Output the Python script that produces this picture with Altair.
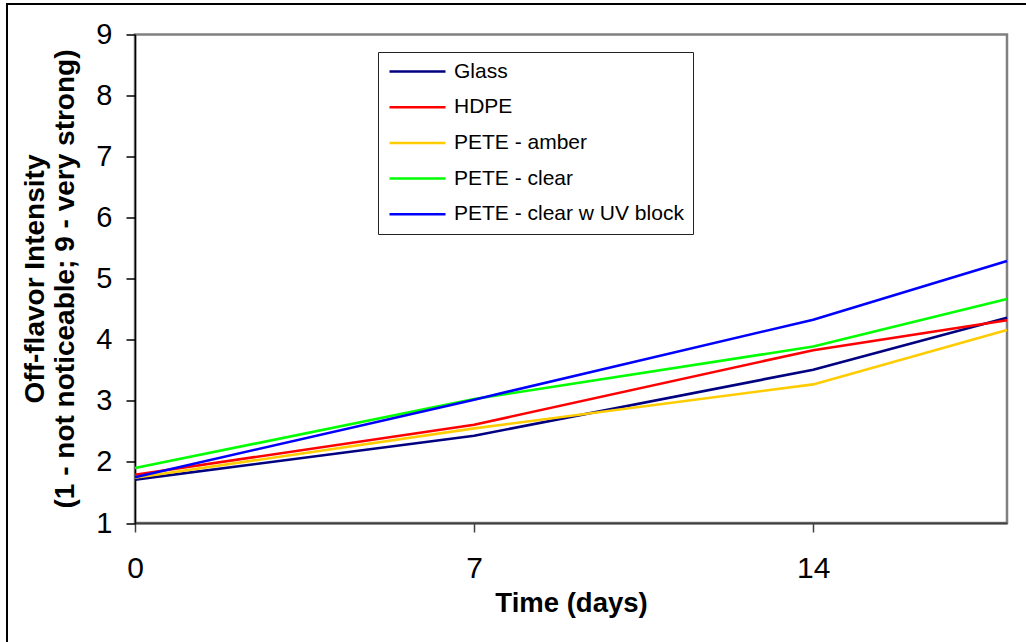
import altair as alt
import pandas as pd

# ---- data ----
days = [0, 7, 14, 18]
series_names = ["Glass", "HDPE", "PETE - amber", "PETE - clear", "PETE - clear w UV block"]
glass = [1.71, 2.43, 3.51, 4.36]
hdpe = [1.79, 2.61, 3.83, 4.32]
pete_amber = [1.74, 2.55, 3.27, 4.16]
pete_clear = [1.90, 3.03, 3.89, 4.67]
pete_uv = [1.75, 3.02, 4.33, 5.29]
series_colors = ["#000080", "#FF0000", "#FFCC00", "#00FF00", "#0000FF"]
x_ticks = [0, 7, 14]
y_ticks = [1, 2, 3, 4, 5, 6, 7, 8, 9]

rows = []
for name, vals in zip(series_names, [glass, hdpe, pete_amber, pete_clear, pete_uv]):
    for d, v in zip(days, vals):
        rows.append({"Series": name, "Day": d, "Score": v})
df = pd.DataFrame(rows)

FONT = "Liberation Sans, Arial, sans-serif"

frame = alt.Chart(pd.DataFrame({"f": [0]})).mark_rect(
    fillOpacity=0, stroke="black", strokeWidth=2
).encode(
    x=alt.value(-128), x2=alt.value(900), y=alt.value(-30.5), y2=alt.value(620)
)

lines = alt.Chart(df).mark_line(strokeWidth=2.6).encode(
    x=alt.X(
        "Day:Q",
        scale=alt.Scale(domain=[0, 18], nice=False, zero=False),
        axis=alt.Axis(
            values=x_ticks, title="Time (days)", grid=False,
            tickSize=9, tickColor="#404040", tickWidth=1.5,
            domainColor="#404040", domainWidth=2,
            labelPadding=21, labelFontSize=30, labelFont=FONT, labelColor="black",
            labelFlush=False,
            titleFont=FONT, titleFontSize=27.5, titleFontWeight="bold", titleColor="black",
            titleY=88, titleBaseline="alphabetic",
        ),
    ),
    y=alt.Y(
        "Score:Q",
        scale=alt.Scale(domain=[1, 9], nice=False, zero=False),
        axis=alt.Axis(
            values=y_ticks,
            title=["Off-flavor Intensity", "(1 - not noticeable; 9 - very strong)"],
            grid=False,
            tickSize=9, tickColor="black", tickWidth=1.5,
            domainColor="black", domainWidth=1.5,
            labelPadding=14, labelFontSize=29, labelFont=FONT, labelColor="black",
            titleFont=FONT, titleFontSize=28, titleFontWeight="bold", titleColor="black",
            titleX=-92, titleY=244, titleBaseline="alphabetic", titleLineHeight=30,
        ),
    ),
    color=alt.Color(
        "Series:N",
        scale=alt.Scale(domain=series_names, range=series_colors),
        legend=alt.Legend(
            title=None, orient="none", legendX=243, legendY=17.5, direction="vertical",
            fillColor="white", strokeColor="#222", padding=9,
            symbolType="M-1,0H6", symbolSize=256, symbolStrokeWidth=2.5,
            labelFontSize=21, labelFont=FONT, labelColor="black", labelOffset=46,
            rowPadding=13.7, labelLimit=400,
        ),
    ),
)

chart = alt.layer(frame, lines).properties(
    width=872,
    height=488.5,
    padding={"left": 135, "top": 34.5, "right": 19, "bottom": 119},
    autosize=alt.AutoSizeParams(type="none"),
    background="white",
).configure_view(stroke="#808080", strokeWidth=2.5)

chart.save("out.html", embed_options={"renderer": "svg", "actions": False})
